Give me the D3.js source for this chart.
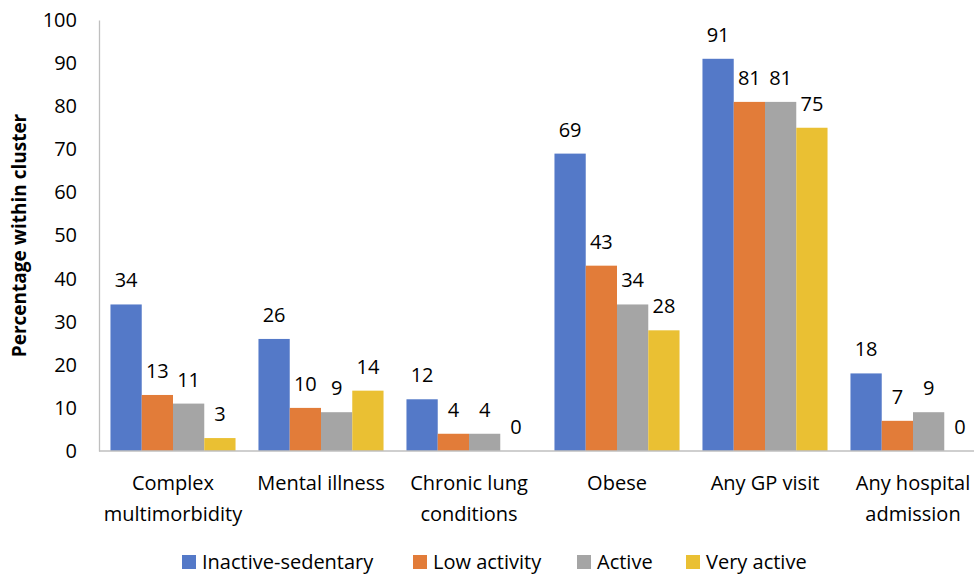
<!DOCTYPE html>
<html>
<head>
<meta charset="utf-8">
<script src="https://cdn.jsdelivr.net/npm/d3@7"></script>
<style>
  body { margin: 0; background: #fff; }
  svg { font-family: "Open Sans", sans-serif; }
</style>
</head>
<body>
<div id="chart"></div>
<script>
const categories = [
  ["Complex", "multimorbidity"],
  ["Mental illness"],
  ["Chronic lung", "conditions"],
  ["Obese"],
  ["Any GP visit"],
  ["Any hospital", "admission"]
];
const seriesNames = ["Inactive-sedentary", "Low activity", "Active", "Very active"];
const inactive = [34, 26, 12, 69, 91, 18];
const lowActivity = [13, 10, 4, 43, 81, 7];
const active = [11, 9, 4, 34, 81, 9];
const veryActive = [3, 14, 0, 28, 75, 0];
const yTicks = [0, 10, 20, 30, 40, 50, 60, 70, 80, 90, 100];
const colors = ["#5479c8", "#e27c39", "#a5a5a5", "#eac033"];

const series = [inactive, lowActivity, active, veryActive];

const W = 974, H = 574;
const margin = {top: 20, left: 99, right: -13, bottom: 123};
const width = W - margin.left - margin.right,
    height = H - margin.top - margin.bottom;

const fs = 20;

const svg = d3.select("#chart")
    .append("svg")
    .attr("width", W)
    .attr("height", H);

const gr = svg.append("g")
    .attr("transform", "translate(" + margin.left + "," + margin.top + ")");

const x0 = d3.scaleBand()
    .domain(d3.range(categories.length))
    .range([0, width])
    .paddingInner(0.155)
    .paddingOuter(0.0775);

const x1 = d3.scaleBand()
    .domain(d3.range(series.length))
    .range([0, x0.bandwidth()]);

const y = d3.scaleLinear()
    .domain([0, 100])
    .range([height, 0]);

// y axis: line + labels, no tick marks
const yAxis = d3.axisLeft(y).tickValues(yTicks).tickSize(0).tickPadding(22);
const yAxGr = gr.append("g").call(yAxis);
yAxGr.select(".domain").attr("stroke", "#bfbfbf").attr("stroke-width", 1.3);
yAxGr.selectAll("text")
    .attr("font-family", "Open Sans")
    .attr("font-size", fs)
    .attr("fill", "#000");

// bars
const groups = gr.selectAll(".grp")
    .data(categories.map((c, i) => i))
    .join("g")
    .attr("class", "grp")
    .attr("transform", i => "translate(" + x0(i) + ",0)");

groups.selectAll("rect")
    .data(i => series.map((s, k) => ({k, v: s[i]})))
    .join("rect")
    .attr("x", d => x1(d.k))
    .attr("width", x1.bandwidth())
    .attr("y", d => y(d.v))
    .attr("height", d => height - y(d.v))
    .attr("fill", d => colors[d.k]);

groups.selectAll(".val")
    .data(i => series.map((s, k) => ({k, v: s[i]})))
    .join("text")
    .attr("class", "val")
    .attr("x", d => x1(d.k) + x1.bandwidth() / 2)
    .attr("y", d => y(d.v) - 17)
    .attr("text-anchor", "middle")
    .attr("font-size", fs)
    .attr("fill", "#000")
    .text(d => d.v);

// x baseline
gr.append("line")
    .attr("x1", 0).attr("x2", width)
    .attr("y1", height).attr("y2", height)
    .attr("stroke", "#bfbfbf")
    .attr("stroke-width", 1.3);

// category labels
const catLab = gr.selectAll(".cat")
    .data(categories)
    .join("text")
    .attr("class", "cat")
    .attr("text-anchor", "middle")
    .attr("font-size", fs)
    .attr("fill", "#000")
    .attr("transform", (d, i) => "translate(" + (x0(i) + x0.bandwidth() / 2) + "," + (height + 39) + ")");
catLab.selectAll("tspan")
    .data(d => d)
    .join("tspan")
    .attr("x", 0)
    .attr("dy", (d, j) => j ? 31 : 0)
    .text(d => d);

// y title
svg.append("text")
    .attr("transform", "translate(26," + (margin.top + height / 2) + ") rotate(-90)")
    .attr("text-anchor", "middle")
    .attr("font-size", 19)
    .attr("font-weight", "bold")
    .attr("fill", "#000")
    .text("Percentage within cluster");

// legend
const legendX = [182, 413, 577, 686];
const legend = svg.selectAll(".leg")
    .data(seriesNames)
    .join("g")
    .attr("class", "leg")
    .attr("transform", (d, i) => "translate(" + legendX[i] + ",555)");
legend.append("rect")
    .attr("width", 14).attr("height", 14)
    .attr("fill", (d, i) => colors[i]);
legend.append("text")
    .attr("x", 20).attr("y", 14)
    .attr("font-size", fs)
    .attr("fill", "#000")
    .text(d => d);
</script>
</body>
</html>
